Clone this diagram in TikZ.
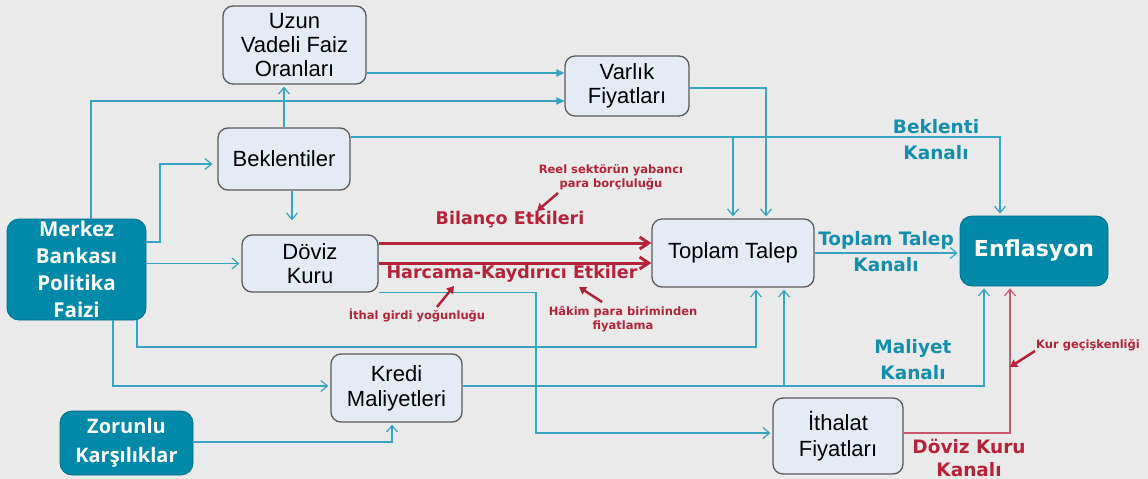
\documentclass[tikz,border=0pt]{standalone}
\usepackage{fontspec}
\setmainfont{Liberation Sans}
\newfontfamily\labfont{DejaVu Sans}[BoldFont={DejaVu Sans Bold}]
\newfontfamily\osfont{Open Sans}
\usetikzlibrary{arrows.meta,calc}
\definecolor{bgc}{HTML}{EAEAEA}
\definecolor{boxfill}{HTML}{E5EBF5}
\definecolor{boxline}{HTML}{5A5A5A}
\definecolor{tealbox}{HTML}{0089A8}
\definecolor{tealtext}{HTML}{138FAD}
\definecolor{linec}{HTML}{38A4C2}
\definecolor{redc}{HTML}{B52339}
\definecolor{redthin}{HTML}{C9596A}
\tikzset{
  lbox/.style={draw=boxline, line width=1.3pt, fill=boxfill, rounded corners=10pt, align=center,
    font=\fontsize{22}{24}\selectfont, inner sep=0pt, text=black},
  tbox/.style={draw=tealbox!80!black, line width=0.8pt, fill=tealbox, rounded corners=12pt, align=center,
    text=white, inner sep=0pt},
  ln/.style={draw=linec, line width=1.2pt, -{Straight Barb[length=6.5pt,width=11pt]}, shorten >=2pt},
  lnf/.style={draw=linec, line width=1.2pt, -{Triangle[length=8pt,width=7.5pt]}},
  redthick/.style={draw=redc, line width=3pt, -{Straight Barb[length=9pt,width=12pt]}},
  redann/.style={draw=redc, line width=2.5pt, -{Triangle[length=7pt,width=8.5pt]}},
  bluelab/.style={text=tealtext, align=center, font=\labfont\bfseries\fontsize{18.5}{26}\selectfont, inner sep=0pt},
  redlab/.style={text=redc, align=center, font=\labfont\bfseries\fontsize{17.5}{20}\selectfont, inner sep=0pt},
  smalllab/.style={text=redc, align=center, font=\labfont\bfseries\fontsize{11.5}{14}\selectfont, inner sep=0pt},
}
\begin{document}
\begin{tikzpicture}[x=1pt,y=-1pt]
\useasboundingbox (0,0) rectangle (1148,479);
\clip (0,0) rectangle (1148,479);
\fill[bgc] (0,0) rectangle (1148,479);

% nodes
\node[lbox, minimum width=143pt, minimum height=78pt] (uzun) at (294.5,45) {Uzun\\Vadeli Faiz\\Oranları};
\node[lbox, minimum width=132pt, minimum height=62pt] (bek) at (284,159) {Beklentiler};
\node[lbox, minimum width=124pt, minimum height=60pt] (varlik) at (627,86) {Varlık\\Fiyatları};
\node[lbox, minimum width=162pt, minimum height=68pt] (toplam) at (733,253) {Toplam Talep};
\node[tbox, minimum width=148pt, minimum height=70pt, font=\labfont\bfseries\fontsize{22}{25}\selectfont] (enf) at (1034,251) {Enflasyon};
\node[tbox, minimum width=139pt, minimum height=101pt, font=\osfont\bfseries\fontsize{20.5}{27}\selectfont] (mb) at (76.5,269.5) {Merkez\\Bankası\\Politika\\Faizi};
\node[lbox, minimum width=136pt, minimum height=57pt] (doviz) at (310,263.5) {Döviz\\Kuru};
\node[lbox, minimum width=131pt, minimum height=68pt, font=\fontsize{22}{25}\selectfont] (kredi) at (396.5,388) {Kredi\\Maliyetleri};
\node[tbox, minimum width=133pt, minimum height=64pt, font=\osfont\bfseries\fontsize{20}{29}\selectfont] (zor) at (126.5,443) {Zorunlu\\Karşılıklar};
\node[lbox, minimum width=130pt, minimum height=76pt, font=\fontsize{22}{26}\selectfont] (ithalat) at (838,436) {İthalat\\Fiyatları};

% helper coordinates
\coordinate (c1) at (91,101);
\coordinate (y73) at (0,73);
\coordinate (c4a) at (160,242);
\coordinate (c4b) at (160,164);
\coordinate (c5) at (292,0);
\coordinate (c6) at (0,137);
\coordinate (c6a) at (733,137);
\coordinate (c6b) at (1000,137);
\coordinate (c7) at (766,88);
\coordinate (c10) at (536,433);
\coordinate (c11a) at (137,347);
\coordinate (c11b) at (756,347);
\coordinate (c12) at (113,386);
\coordinate (c13) at (392,442);
\coordinate (c14a) at (784,386);
\coordinate (c14b) at (984,386);
\coordinate (c15) at (1010,433);
\coordinate (c16) at (0,253);
\coordinate (r1) at (0,243);
\coordinate (r2) at (0,263);

% blue connectors
\draw[lnf] (uzun.east |- y73) -- (varlik.west |- y73);
\draw[lnf] (mb.north -| c1) -- (c1) -- (varlik.west |- c1);
\draw[ln] (bek.north) -- (uzun.south -| bek.north);
\draw[ln, shorten >=5pt] (mb.east |- c4a) -- (c4a) -- (c4b) -- (bek.west |- c4b);
\draw[ln, shorten >=14pt] (bek.south -| c5) -- (doviz.north -| c5);
\draw[ln] (bek.east |- c6) -- (c6b) -- (enf.north -| c6b);
\draw[ln] (c6a) -- (toplam.north);
\draw[ln] (varlik.east |- c7) -- (c7) -- (toplam.north -| c7);
\draw[ln] (mb.east |- doviz.west) -- (doviz.west);
\draw[ln] (doviz.south east) -| (c10) -- (ithalat.west |- c10);
\draw[ln] (mb.south -| c11a) -- (c11a) -- (c11b) -- (toplam.south -| c11b);
\draw[ln] (mb.south -| c12) -- (c12) -- (kredi.west |- c12);
\draw[ln] (zor.east |- c13) -- (c13) -- (kredi.south -| c13);
\draw[ln] (kredi.east |- c14a) -- (c14b) -- (enf.south -| c14b);
\draw[ln] (c14a) -- (toplam.south -| c14a);
\draw[ln] (toplam.east |- c16) -- (enf.west |- c16);
\draw[draw=redthin, line width=1.2pt, -{Straight Barb[length=6.5pt,width=11pt]}, shorten >=2pt] (ithalat.east |- c15) -- (c15) -- (enf.south -| c15);

% red thick arrows
\draw[redthick] (doviz.east |- r1) -- (toplam.west |- r1);
\draw[redthick] (doviz.east |- r2) -- (toplam.west |- r2);

% labels
\node[redlab] (bil) at (510,220) {Bilanço Etkileri};
\node[redlab] (har) at (512,274) {Harcama-Kaydırıcı Etkiler};
\node[smalllab] (reel) at (611,177) {Reel sektörün yabancı\\para borçluluğu};
\node[smalllab] (ithal) at (417,315) {İthal girdi yoğunluğu};
\node[smalllab] (hakim) at (623,319) {Hâkim para biriminden\\fiyatlama};
\node[smalllab, anchor=west] (kur) at (1036,345) {Kur geçişkenliği};
\node[bluelab] (bk) at (936,140) {Beklenti\\Kanalı};
\node[bluelab] (tk) at (886,252) {Toplam Talep\\Kanalı};
\node[bluelab] (mk) at (913,360) {Maliyet\\Kanalı};
\node[bluelab, text=redc, font=\labfont\bfseries\fontsize{18.5}{23}\selectfont] (dk) at (969,458) {Döviz Kuru\\Kanalı};

% annotation arrows
\coordinate (a1s) at (558,193); \coordinate (a1e) at (537,211);
\coordinate (a2s) at (437,307); \coordinate (a2e) at (454,286);
\coordinate (a3s) at (602,302); \coordinate (a3e) at (579,287);
\coordinate (a4s) at (1035,351); \coordinate (a4e) at (1010,367);
\draw[redann] (a1s) -- (a1e);
\draw[redann] (a2s) -- (a2e);
\draw[redann] (a3s) -- (a3e);
\draw[redann] (a4s) -- (a4e);
\end{tikzpicture}
\end{document}
